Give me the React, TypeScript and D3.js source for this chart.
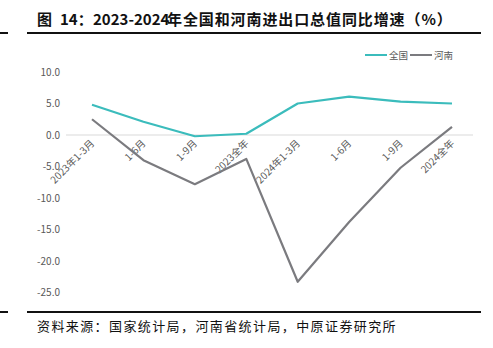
import React from "react";
import * as d3 from "d3";

const categories = ["2023年1-3月", "1-6月", "1-9月", "2023全年", "2024年1-3月", "1-6月", "1-9月", "2024全年"];
const nationalValues = [4.8, 2.1, -0.2, 0.2, 5.0, 6.1, 5.3, 5.0];
const henanValues = [2.5, -4.0, -7.8, -3.8, -23.3, -13.8, -5.2, 1.3];
const yTicks = [10, 5, 0, -5, -10, -15, -20, -25];
const seriesNames = ["全国", "河南"];

const W = 493;
const H = 348;
const TEAL = "#3BBCBC";
const GRAY = "#7B7B7F";
const FONT = "'Noto Sans CJK SC', 'Noto Sans', sans-serif";

export default function App() {
  const y = d3.scaleLinear().domain([-25, 10]).range([292.5, 72]);
  const x = d3.scalePoint<number>().domain(categories.map((_, i) => i)).range([92, 452]);
  const line = d3
    .line<number>()
    .x((_, i) => x(i) as number)
    .y((d) => y(d));

  const series = [
    { name: seriesNames[0], values: nationalValues, color: TEAL },
    { name: seriesNames[1], values: henanValues, color: GRAY },
  ];

  return (
    <svg
      width={W}
      height={H}
      style={{ position: "absolute", left: 0, top: 0, background: "#fff" }}
      fontFamily={FONT}
    >
      <rect x={0} y={0} width={W} height={H} fill="#fff" />
      {/* title */}
      <text x={37} y={25} fontSize={15} fontWeight="bold" fill="#111">
        <tspan>图</tspan>
        <tspan x={60}>14：</tspan>
        <tspan x={93}>2023-2024</tspan>
        <tspan x={167} letterSpacing={0.9}>年全国和河南进出口总值同比增速（%）</tspan>
      </text>
      <rect x={0} y={32} width={8} height={2} fill="#111" />
      <rect x={27} y={32} width={454} height={2} fill="#111" />

      {/* legend */}
      {series.map((s, i) => (
        <g key={s.name} transform={`translate(${365 + i * 45},0)`}>
          <line x1={0} x2={22} y1={55} y2={55} stroke={s.color} strokeWidth={2} />
          <text x={24} y={58.5} fontSize={9.5} fill="#595959">
            {s.name}
          </text>
        </g>
      ))}

      {/* y axis labels */}
      {yTicks.map((t) => (
        <text key={t} x={60} y={y(t) + 3.5} fontSize={10} fill="#595959" textAnchor="end">
          {t.toFixed(1)}
        </text>
      ))}

      {/* zero line */}
      <line x1={66} x2={473} y1={y(0)} y2={y(0)} stroke="#D9D9D9" strokeWidth={1} />

      {/* x labels */}
      {categories.map((c, i) => (
        <text
          key={i}
          transform={`translate(${(x(i) as number) + 3},${y(0) + 9}) rotate(-45)`}
          fontSize={10}
          fill="#595959"
          textAnchor="end"
        >
          {c}
        </text>
      ))}

      {/* lines */}
      {series.map((s) => (
        <path key={s.name} d={line(s.values) ?? ""} fill="none" stroke={s.color} strokeWidth={2.2} strokeLinejoin="round" />
      ))}

      {/* bottom rule + source */}
      <rect x={0} y={311} width={8} height={2} fill="#111" />
      <rect x={27} y={311} width={454} height={2} fill="#111" />
      <text x={37} y={331} fontSize={13} fill="#111" letterSpacing={1.4}>
        资料来源：国家统计局，河南省统计局，中原证券研究所
      </text>
    </svg>
  );
}
